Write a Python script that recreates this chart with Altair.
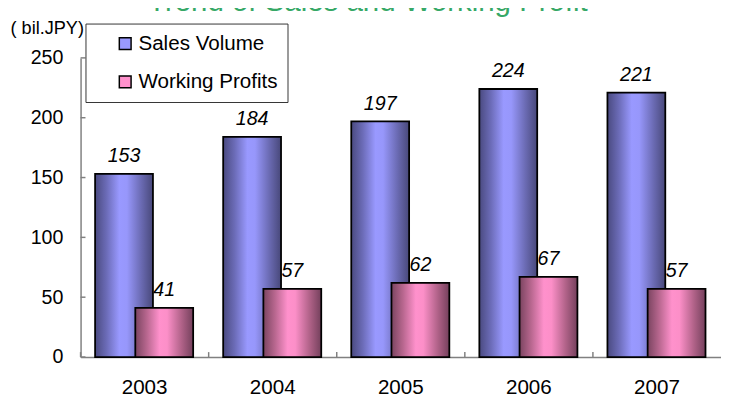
import altair as alt
import pandas as pd

years = ["2003", "2004", "2005", "2006", "2007"]
sales = [153, 184, 197, 224, 221]
profits = [41, 57, 62, 67, 57]
series_names = ["Sales Volume", "Working Profits"]
y_ticks = [0, 50, 100, 150, 200, 250]
title_text = "Trend of Sales and Working Profit"
unit_text = "( bil.JPY)"

df = pd.DataFrame({"year": years, "sales": sales, "profit": profits})
long_df = pd.DataFrame({
    "year": years * 2,
    "series": [series_names[0]] * len(years) + [series_names[1]] * len(years),
    "value": sales + profits,
})
ytick_df = pd.DataFrame({"v": y_ticks})
xtick_df = pd.DataFrame({"year": years})
title_df = pd.DataFrame({"t": [title_text]})

W, H = 653, 305
FONT = "Liberation Sans"

xscale = alt.Scale(domain=years, paddingInner=0, paddingOuter=0)
yscale = alt.Scale(domain=[0, 250], nice=False, zero=True)

x_axis = alt.Axis(title=None, labelAngle=0, labelFontSize=21, labelPadding=20,
                  ticks=False, domainColor="#808080", grid=False)
y_axis = alt.Axis(title=unit_text, titleAngle=0, titleX=3, titleY=-31,
                  titleAlign="right", titleBaseline="middle",
                  titleFontSize=18.5, titleFontWeight="normal",
                  values=y_ticks, labelFontSize=20, labelPadding=18,
                  ticks=False, domainColor="#808080", grid=False)

sales_grad = alt.LinearGradient(
    gradient="linear", x1=0, x2=1, y1=0, y2=0,
    stops=[
        alt.GradientStop(offset=0, color="#4a4a80"),
        alt.GradientStop(offset=0.2, color="#6c6cb8"),
        alt.GradientStop(offset=0.42, color="#9999ff"),
        alt.GradientStop(offset=0.55, color="#9797fb"),
        alt.GradientStop(offset=0.8, color="#6a6ab2"),
        alt.GradientStop(offset=1, color="#48487a"),
    ],
)
profit_grad = alt.LinearGradient(
    gradient="linear", x1=0, x2=1, y1=0, y2=0,
    stops=[
        alt.GradientStop(offset=0, color="#7a4460"),
        alt.GradientStop(offset=0.2, color="#b8678f"),
        alt.GradientStop(offset=0.42, color="#ff91cc"),
        alt.GradientStop(offset=0.55, color="#fc8fc8"),
        alt.GradientStop(offset=0.8, color="#b06288"),
        alt.GradientStop(offset=1, color="#74405c"),
    ],
)


def X(**kw):
    # identical axis definition in every layer so that the shared axis merges cleanly
    return alt.X("year:N", scale=xscale, axis=x_axis, **kw)


def Y(field):
    return alt.Y(field, scale=yscale, axis=y_axis)


# invisible frame that fixes the chart's outer bounds (layout helper only)
frame_layer = alt.Chart(title_df).mark_rect(opacity=0).encode(
    x=alt.value(-74), x2=alt.value(W), y=alt.value(-90), y2=alt.value(H + 42))

legend_layer = alt.Chart(long_df).mark_bar(strokeWidth=0).encode(
    x=X(),
    y=alt.value(H),
    y2=alt.value(H),
    color=alt.Color("series:N",
                    scale=alt.Scale(domain=series_names, range=["#9999ff", "#ff91cc"]),
                    legend=alt.Legend(title=None, orient="none", legendX=5, legendY=-35,
                                      padding=10, rowPadding=17,
                                      labelFontSize=21, labelColor="black",
                                      labelExpr="datum.label + '\u00a0\u00a0\u00a0\u00a0'",
                                      symbolType="square", symbolSize=144,
                                      symbolStrokeColor="black", symbolStrokeWidth=1.5,
                                      symbolOffset=20, labelOffset=3,
                                      strokeColor="#333333", fillColor="white",
                                      direction="vertical")),
)

sales_bars = alt.Chart(df).mark_bar(width=59, xOffset=-21, fill=sales_grad,
                                    stroke="black", strokeWidth=1.8).encode(
    x=X(), y=Y("sales:Q"))
profit_bars = alt.Chart(df).mark_bar(width=59, xOffset=20, fill=profit_grad,
                                     stroke="black", strokeWidth=1.8).encode(
    x=X(), y=Y("profit:Q"))

sales_labels = alt.Chart(df).mark_text(dy=-12, baseline="alphabetic", fontStyle="italic",
                                       fontSize=20, xOffset=-21,
                                       color="black").encode(
    x=X(), y=Y("sales:Q"), text="sales:Q")
profit_labels = alt.Chart(df).mark_text(dy=-12, baseline="alphabetic", fontStyle="italic",
                                        fontSize=20, xOffset=20,
                                        color="black").encode(
    x=X(), y=Y("profit:Q"), text="profit:Q")

x_ticks = alt.Chart(xtick_df).mark_rule(color="#808080", strokeWidth=1.5).encode(
    x=X(bandPosition=0),
    y=alt.value(H), y2=alt.value(H - 5))
y_tick_rules = alt.Chart(ytick_df).mark_rule(color="#808080", strokeWidth=1.5).encode(
    y=Y("v:Q"), x=alt.value(0), x2=alt.value(5))

title_layer = alt.Chart(title_df).mark_text(fontSize=30, color="#36a866",
                                            align="center", baseline="alphabetic").encode(
    x=alt.value(293), y=alt.value(-47.5), text="t:N")


def build(pad_top):
    return alt.layer(
        frame_layer, legend_layer, sales_bars, profit_bars, sales_labels, profit_labels,
        x_ticks, y_tick_rules, title_layer,
    ).properties(
        width=W, height=H,
        padding={"left": 0, "top": pad_top, "right": 0, "bottom": 0},
    ).configure(
        background="white", font=FONT,
    ).configure_axis(
        labelFont=FONT, titleFont=FONT, labelColor="black", titleColor="black",
        domainWidth=1.5,
    ).configure_legend(
        labelFont=FONT,
    ).configure_view(stroke=None)


try:
    chart = build(-43)
    chart.to_dict()
except Exception:
    chart = build(0)

chart.save("out.html", embed_options={"renderer": "svg", "actions": False})
